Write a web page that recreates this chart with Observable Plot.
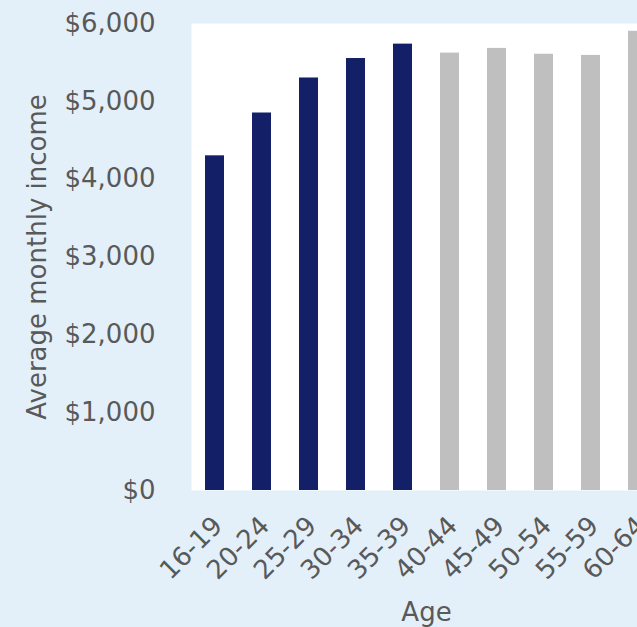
<!DOCTYPE html>
<html>
<head>
<meta charset="utf-8">
<script src="https://cdn.jsdelivr.net/npm/d3@7"></script>
<script src="https://cdn.jsdelivr.net/npm/@observablehq/plot@0.6"></script>
<style>
  html, body { margin: 0; padding: 0; overflow: hidden; background: #e3f0f9; }
  #chart { width: 637px; height: 627px; overflow: hidden; }
  #chart svg { max-width: none !important; }
</style>
</head>
<body>
<div id="chart"></div>
<script>
// Average monthly income by age group
const ageGroups = ["16-19", "20-24", "25-29", "30-34", "35-39", "40-44", "45-49", "50-54", "55-59", "60-64"];
const incomes = [4300, 4850, 5300, 5550, 5735, 5620, 5680, 5605, 5590, 5900];
const highlighted = ["16-19", "20-24", "25-29", "30-34", "35-39"];
const yTicks = [0, 1000, 2000, 3000, 4000, 5000, 6000];

const rows = ageGroups.map((age, i) => ({age, income: incomes[i]}));

const navy = "#131f67";
const grey = "#bfbfbf";
const ink = "#595959";

const chart = Plot.plot({
  width: 680,
  height: 627,
  marginLeft: 191,
  marginRight: 19,
  marginTop: 23,
  marginBottom: 137,
  style: {
    fontFamily: "'DejaVu Sans', Verdana, sans-serif",
    fontSize: "26px",
    color: ink,
    background: "transparent",
    maxWidth: "none",
    overflow: "hidden"
  },
  x: {domain: ageGroups, paddingInner: 0.596, paddingOuter: 0.298},
  y: {domain: [0, 6000]},
  marks: [
    Plot.frame({fill: "white", stroke: null}),
    Plot.barY(rows, {
      x: "age",
      y: "income",
      fill: d => highlighted.includes(d.age) ? navy : grey
    }),
    Plot.axisY({
      ticks: yTicks,
      tickFormat: d3.format("$,"),
      tickSize: 0,
      tickPadding: 36,
      fill: ink,
      label: "Average monthly income",
      labelAnchor: "center",
      labelArrow: "none",
      labelOffset: 164
    }),
    // age-group labels, slanted up to the right and ending under each bar
    Plot.text(ageGroups, {
      x: d => d,
      frameAnchor: "bottom",
      rotate: -45,
      textAnchor: "end",
      lineAnchor: "middle",
      dx: 3,
      dy: 31,
      fill: ink
    }),
    Plot.axisX({
      ticks: [],
      tickSize: 0,
      label: "Age",
      labelAnchor: "center",
      labelArrow: "none",
      labelOffset: 130,
      fill: ink
    })
  ]
});

document.getElementById("chart").appendChild(chart);
</script>
</body>
</html>
